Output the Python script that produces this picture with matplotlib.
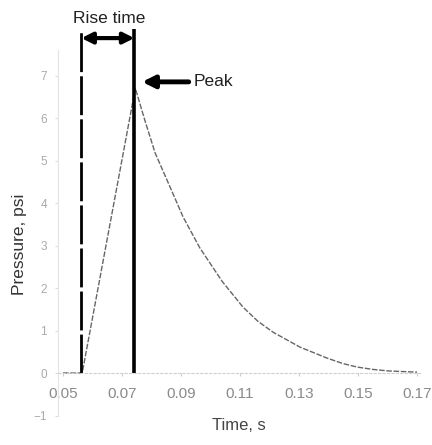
import matplotlib
matplotlib.use('Agg')
import matplotlib.pyplot as plt

plt.rcParams['font.family'] = ['Liberation Sans', 'DejaVu Sans']

# pressure trace
time_s = [0.050, 0.0565, 0.0745, 0.0778, 0.0812, 0.086, 0.0907, 0.0964, 0.104,
          0.111, 0.116, 0.1212, 0.1303, 0.1395, 0.145, 0.1497, 0.155, 0.160, 0.170]
pressure_psi = [0, 0, 6.7, 5.93, 5.18, 4.42, 3.67, 2.94, 2.15,
                1.55, 1.22, 0.96, 0.61, 0.35, 0.22, 0.14, 0.085, 0.05, 0.02]

rise_start = 0.0562
peak_time = 0.0742
line_top = 8.1

x_ticks = [0.05, 0.07, 0.09, 0.11, 0.13, 0.15, 0.17]
x_ticklabels = ['0.05', '0.07', '0.09', '0.11', '0.13', '0.15', '0.17']
y_ticks = [-1, 0, 1, 2, 3, 4, 5, 6, 7]

fig = plt.figure(figsize=(4.32, 4.45), dpi=100)
ax = fig.add_axes([0.1343, 0.0567, 0.838, 0.8978])

# curve
ax.plot(time_s, pressure_psi, color='#666666', lw=1.0, linestyle=(0, (4, 1.2)))

# rise-time markers
ax.vlines(rise_start, 0, line_top, colors='black', lw=2.0, linestyles=(0, (14, 1.5)))
ax.vlines(peak_time, 0, line_top, colors='black', lw=2.6)

ax.annotate('', xy=(rise_start, 7.88), xytext=(peak_time, 7.88),
            arrowprops=dict(arrowstyle='<|-|>', color='black', lw=3,
                            mutation_scale=16, shrinkA=0, shrinkB=0))
ax.text((rise_start + peak_time) / 2 + 0.0004, 8.35, 'Rise time', ha='center', va='center',
        fontsize=12.5, color='#222222', clip_on=False)

ax.annotate('', xy=(0.0768, 6.85), xytext=(0.0926, 6.85),
            arrowprops=dict(arrowstyle='-|>', color='black', lw=3.5,
                            mutation_scale=18, shrinkA=0, shrinkB=0))
ax.text(0.0942, 6.85, 'Peak', ha='left', va='center', fontsize=12.5, color='#222222')

ax.set_xlim(0.0483, 0.171)
ax.set_ylim(-1.1, 8.3)

for s in ['top', 'right']:
    ax.spines[s].set_visible(False)
ax.spines['bottom'].set_position(('data', 0))
ax.spines['bottom'].set_color('#d0d0d0')
ax.spines['bottom'].set_linestyle((0, (2, 2)))
ax.spines['left'].set_color('#e4e4e4')
ax.spines['left'].set_bounds(-1, 7.6)

ax.set_xticks(x_ticks)
ax.set_xticklabels(x_ticklabels)
ax.set_yticks(y_ticks)
ax.tick_params(axis='x', colors='#cccccc', labelcolor='#8a8a8a', labelsize=11,
               length=2, pad=8)
ax.tick_params(axis='y', colors='#dddddd', labelcolor='#aaaaaa', labelsize=8.5,
               length=2, pad=6)

ax.set_xlabel('Time, s', fontsize=12, color='#444444', va='center')
ax.xaxis.set_label_coords(0.5, -0.015)
ax.set_ylabel('Pressure, psi', fontsize=12.5, color='#333333')
ax.yaxis.set_label_coords(-0.085, 0.44)

fig.savefig('out.png', dpi=100)
